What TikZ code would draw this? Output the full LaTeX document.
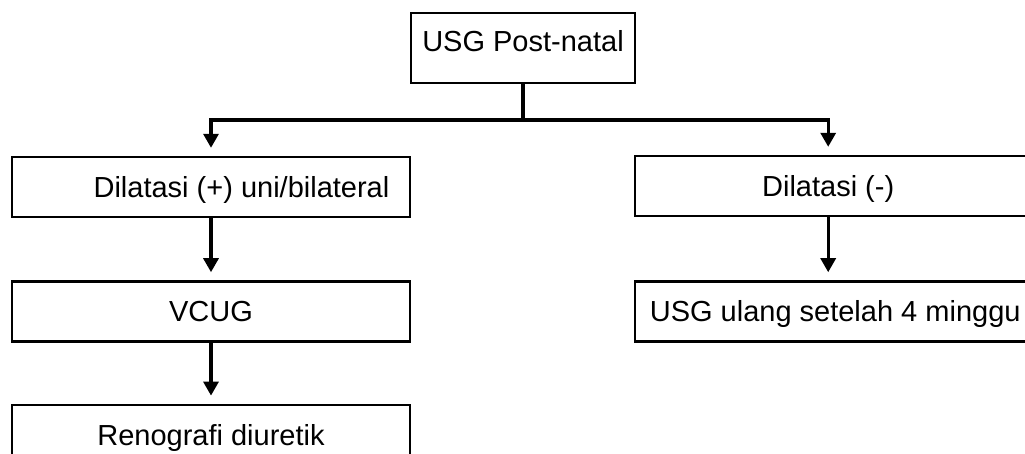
\documentclass[tikz,border=0pt]{standalone}
\usepackage{fontspec}
\setmainfont{Liberation Sans}
\usetikzlibrary{arrows.meta,positioning}
\tikzset{
  box/.style ={draw,line width=2.4pt,minimum height=60pt,text height=21pt,
               text depth=0pt,inner sep=0pt},
  ln/.style  ={line width=3.2pt},
  ar/.style  ={ln,-{Triangle[length=14pt,width=15pt]},shorten >=8pt},
}
\newcommand{\bx}{\fontsize{29}{34}\selectfont}

\begin{document}
\begin{tikzpicture}[x=1pt,y=-1pt,every node/.style={font=\bx}]
\useasboundingbox (0,0) rectangle (1025,454);
\node[box,minimum width=224pt,minimum height=70pt,text depth=14pt] (usg) at (523,48) {USG Post-natal};
\node[box,minimum width=398pt] (pos) at (211,187) {\hspace*{61pt}Dilatasi (+) uni/bilateral};
\node[box,minimum width=398pt,below=62pt of pos] (vcug) {VCUG};
\node[box,minimum width=398pt,below=61pt of vcug] (reno) {Renografi diuretik};
\node[box,minimum width=400pt,anchor=west] (neg) at (634,186) {\hspace*{-14pt}Dilatasi (-)};
\node[box,minimum width=400pt,below=63pt of neg] (ulang) {USG ulang setelah 4 minggu};
\coordinate (hub) at (523,120);
\draw[ln] (usg.south) -- (hub);
\draw[ar] (hub) -| (pos.north);
\draw[ar] (hub) -| ([xshift=-7pt]neg.north);
\draw[ar] (pos) -- (vcug);
\draw[ar] (vcug) -- (reno);
\draw[ar] ([xshift=-7pt]neg.south) -- ([xshift=-7pt]ulang.north);
\end{tikzpicture}
\end{document}
